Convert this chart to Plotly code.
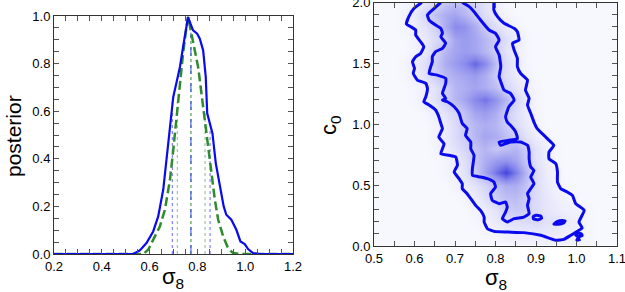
import plotly.graph_objects as go

# ---------------- Left panel: 1D posterior of sigma8 ----------------
blue_s = [0.2, 0.33, 0.531, 0.559, 0.587, 0.615, 0.636, 0.657, 0.671, 0.685, 0.699, 0.713, 0.727,
          0.740, 0.752, 0.761, 0.771, 0.782, 0.799, 0.810, 0.824, 0.835, 0.841, 0.852, 0.863,
          0.877, 0.894, 0.910, 0.921, 0.942, 0.963, 0.980, 0.998, 1.012, 1.033, 1.061, 1.2]
blue_p = [0.0, 0.0, 0.0, 0.015, 0.046, 0.095, 0.158, 0.27, 0.395, 0.535, 0.66, 0.723, 0.786,
          0.87, 0.94, 0.996, 0.968, 0.94, 0.926, 0.905, 0.856, 0.744, 0.591, 0.549, 0.507,
          0.381, 0.283, 0.2, 0.165, 0.144, 0.102, 0.053, 0.042, 0.021, 0.004, 0.0, 0.0]

green_s = [0.2, 0.573, 0.594, 0.615, 0.643, 0.664, 0.685, 0.699, 0.713, 0.727, 0.740, 0.754, 0.761,
           0.775, 0.789, 0.803, 0.817, 0.831, 0.845, 0.859, 0.873, 0.887, 0.908, 0.928, 0.949, 0.977, 1.2]
green_p = [0.0, 0.0, 0.018, 0.06, 0.116, 0.186, 0.311, 0.437, 0.577, 0.716, 0.842, 0.954, 0.996,
           0.926, 0.856, 0.786, 0.675, 0.563, 0.451, 0.339, 0.228, 0.144, 0.074, 0.025, 0.004, 0.0, 0.0]

# vertical marker lines (position, height, colour, dash)
vline_x = [0.695, 0.716, 0.773, 0.773, 0.832, 0.853]
vline_h = [0.64, 0.64, 0.93, 0.93, 0.60, 0.52]
vline_c = ['#6666ff', '#88bb88', '#2e8b2e', '#3344ee', '#88bb88', '#6666ff']
vline_d = ['dot', 'dot', 'dot', 'dash', 'dot', 'dot']

# ---------------- Right panel: 2D posterior sigma8 vs c0 ----------------
grid_s = [0.5, 0.525, 0.55, 0.575, 0.6, 0.625, 0.65, 0.675, 0.7, 0.725, 0.75, 0.775, 0.8,
          0.825, 0.85, 0.875, 0.9, 0.925, 0.95, 0.975, 1.0, 1.025, 1.05, 1.075, 1.1]
grid_c = [0.0, 0.1, 0.2, 0.3, 0.4, 0.5, 0.6, 0.7, 0.8, 0.9, 1.0,
          1.1, 1.2, 1.3, 1.4, 1.5, 1.6, 1.7, 1.8, 1.9, 2.0]
density = [
    [0,0,0,0,0,0,0,0,0,0,0,0,0,0,.01,.01,.02,.02,.03,.03,.03,.01,0,0,0],
    [0,0,0,0,0,0,0,0,0,0,0,.01,.03,.06,.08,.09,.10,.09,.08,.06,.06,.01,0,0,0],
    [0,0,0,0,0,0,0,0,0,0,.01,.05,.10,.15,.18,.20,.22,.16,.15,.10,.06,.01,0,0,0],
    [0,0,0,0,0,0,0,0,0,0,.03,.07,.15,.30,.35,.30,.20,.13,.09,.06,.04,.01,0,0,0],
    [0,0,0,0,0,0,0,0,0,.03,.08,.18,.32,.40,.42,.32,.20,.12,.07,.03,.01,0,0,0,0],
    [0,0,0,0,0,0,0,0,.03,.08,.15,.25,.40,.50,.50,.38,.20,.10,.04,.01,0,0,0,0,0],
    [0,0,0,0,0,0,0,.02,.07,.16,.32,.55,.80,1.0,.75,.45,.20,.08,.03,0,0,0,0,0,0],
    [0,0,0,0,0,0,0,.02,.07,.18,.35,.50,.60,.65,.55,.35,.15,.07,.01,0,0,0,0,0,0],
    [0,0,0,0,0,0,.02,.08,.16,.25,.38,.45,.35,.40,.45,.32,.15,.06,.01,0,0,0,0,0,0],
    [0,0,0,0,0,0,.04,.10,.20,.32,.45,.55,.50,.40,.30,.15,.07,.02,0,0,0,0,0,0,0],
    [0,0,0,0,0,0,.03,.10,.20,.35,.45,.50,.45,.32,.20,.10,.03,0,0,0,0,0,0,0,0],
    [0,0,0,0,0,.02,.07,.15,.25,.40,.55,.60,.50,.32,.18,.08,.02,0,0,0,0,0,0,0,0],
    [0,0,0,0,.02,.07,.16,.30,.45,.55,.70,.80,.65,.45,.25,.10,.02,0,0,0,0,0,0,0,0],
    [0,0,0,0,.02,.06,.15,.30,.45,.50,.55,.50,.40,.25,.13,.06,.01,0,0,0,0,0,0,0,0],
    [0,0,0,.01,.07,.16,.30,.42,.50,.55,.60,.50,.32,.18,.09,.03,0,0,0,0,0,0,0,0,0],
    [0,0,0,.02,.08,.18,.32,.50,.60,.70,.85,.70,.40,.20,.08,.02,0,0,0,0,0,0,0,0,0],
    [0,0,0,0,.04,.10,.28,.45,.55,.60,.55,.45,.30,.15,.06,.01,0,0,0,0,0,0,0,0,0],
    [0,0,0,0,.04,.10,.20,.32,.55,.60,.55,.45,.32,.18,.08,.02,0,0,0,0,0,0,0,0,0],
    [0,0,0,.02,.08,.15,.28,.50,.70,.65,.50,.32,.18,.10,.03,0,0,0,0,0,0,0,0,0,0],
    [0,0,0,.03,.10,.25,.40,.50,.55,.45,.32,.18,.08,.02,0,0,0,0,0,0,0,0,0,0,0],
    [0,0,0,0,.05,.12,.22,.35,.40,.35,.25,.15,.06,0,0,0,0,0,0,0,0,0,0,0,0],
]
for row in density:
    assert len(row) == len(grid_s), len(row)
assert len(density) == len(grid_c)

outer_s = [0.618, 0.599, 0.586, 0.580, 0.591, 0.603, 0.603, 0.615, 0.623, 0.615, 0.603, 0.595, 0.600,
           0.597, 0.607, 0.628, 0.632, 0.628, 0.623, 0.636, 0.652, 0.660, 0.665, 0.669, 0.660, 0.673,
           0.665, 0.685, 0.702, 0.706, 0.698, 0.710, 0.718, 0.718, 0.730, 0.739, 0.751, 0.763, 0.772,
           0.772, 0.780, 0.796, 0.829, 0.870, 0.912, 0.949, 0.969, 0.986, 1.006, 1.014, 1.006, 1.019,
           0.998, 0.990, 0.977, 0.961, 0.953, 0.953, 0.949, 0.932, 0.932, 0.944, 0.928, 0.903, 0.895,
           0.887, 0.879, 0.883, 0.874, 0.879, 0.862, 0.854, 0.854, 0.846, 0.842, 0.858, 0.854, 0.846,
           0.821, 0.805, 0.796, 0.796]
outer_c = [2.0, 1.952, 1.884, 1.823, 1.801, 1.774, 1.733, 1.678, 1.637, 1.582, 1.555, 1.514, 1.459,
           1.418, 1.363, 1.336, 1.295, 1.227, 1.185, 1.158, 1.117, 1.062, 1.007, 0.964, 0.895, 0.840,
           0.758, 0.745, 0.731, 0.663, 0.608, 0.553, 0.512, 0.471, 0.430, 0.389, 0.334, 0.293, 0.238,
           0.197, 0.142, 0.120, 0.115, 0.110, 0.088, 0.047, 0.055, 0.088, 0.129, 0.148, 0.197, 0.293,
           0.348, 0.416, 0.444, 0.471, 0.526, 0.608, 0.676, 0.717, 0.772, 0.827, 0.882, 0.964, 1.018,
           1.090, 1.158, 1.213, 1.281, 1.363, 1.418, 1.473, 1.541, 1.610, 1.665, 1.692, 1.760, 1.788,
           1.829, 1.884, 1.938, 2.0]

inner_s = [0.665, 0.644, 0.632, 0.636, 0.652, 0.665, 0.669, 0.665, 0.677, 0.669, 0.652, 0.644, 0.644,
           0.640, 0.636, 0.656, 0.677, 0.677, 0.673, 0.669, 0.677, 0.669, 0.681, 0.698, 0.710, 0.718,
           0.730, 0.726, 0.739, 0.739, 0.747, 0.743, 0.743, 0.763, 0.780, 0.796, 0.800, 0.788, 0.792,
           0.809, 0.825, 0.829, 0.825, 0.817, 0.829, 0.846, 0.870, 0.883, 0.879, 0.883, 0.879, 0.887,
           0.895, 0.887, 0.895, 0.887, 0.883, 0.883, 0.879, 0.862, 0.837, 0.813, 0.809, 0.833, 0.854,
           0.850, 0.837, 0.829, 0.825, 0.833, 0.846, 0.837, 0.821, 0.813, 0.809, 0.813, 0.809, 0.800,
           0.809, 0.800, 0.784, 0.763, 0.747, 0.735, 0.718]
inner_c = [2.0, 1.938, 1.897, 1.856, 1.815, 1.788, 1.747, 1.719, 1.665, 1.624, 1.596, 1.555, 1.514,
           1.473, 1.418, 1.404, 1.377, 1.336, 1.295, 1.254, 1.213, 1.199, 1.185, 1.144, 1.090, 1.007,
           0.964, 0.909, 0.854, 0.799, 0.745, 0.635, 0.580, 0.567, 0.553, 0.526, 0.485, 0.430, 0.375,
           0.348, 0.361, 0.320, 0.279, 0.225, 0.197, 0.225, 0.238, 0.266, 0.334, 0.389, 0.430, 0.471,
           0.512, 0.567, 0.621, 0.649, 0.717, 0.772, 0.827, 0.854, 0.854, 0.827, 0.854, 0.868, 0.882,
           0.936, 0.991, 1.018, 1.062, 1.144, 1.199, 1.254, 1.281, 1.350, 1.391, 1.473, 1.569, 1.637,
           1.692, 1.747, 1.774, 1.856, 1.925, 1.966, 2.0]

island1_s = [0.893, 0.900, 0.912, 0.914, 0.905, 0.894, 0.893]
island1_c = [0.240, 0.253, 0.245, 0.228, 0.215, 0.222, 0.240]
island2_s = [0.944, 0.952, 0.965, 0.972, 0.968, 0.955, 0.944]
island2_c = [0.180, 0.200, 0.210, 0.205, 0.190, 0.178, 0.180]
island3_s = [0.998, 1.004, 1.012, 1.014, 1.005, 0.998]
island3_c = [0.090, 0.105, 0.100, 0.085, 0.078, 0.090]
spur_s = [1.000, 1.004, 1.008]
spur_c = [0.040, 0.070, 0.040]

BLUE = '#0a0aee'
GREEN = '#2e8b2e'
FONT = 'Liberation Sans, Arial, sans-serif'

fig = go.Figure()

# left panel traces
for vx, vh, vc, vd in zip(vline_x, vline_h, vline_c, vline_d):
    fig.add_trace(go.Scatter(x=[vx, vx], y=[0, vh], mode='lines',
                             line=dict(color=vc, width=1, dash=vd),
                             xaxis='x', yaxis='y', showlegend=False, hoverinfo='skip'))
fig.add_trace(go.Scatter(x=green_s, y=green_p, mode='lines',
                         line=dict(color=GREEN, width=2.5, dash='9px,4px'),
                         xaxis='x', yaxis='y', showlegend=False))
fig.add_trace(go.Scatter(x=blue_s, y=blue_p, mode='lines',
                         line=dict(color=BLUE, width=2.2),
                         xaxis='x', yaxis='y', showlegend=False))

# right panel traces
fig.add_trace(go.Heatmap(x=grid_s, y=grid_c, z=density, zsmooth='best',
                         colorscale=[[0, '#f7f7fe'], [0.35, '#c8c8f6'], [0.7, '#8a8aec'], [1, '#4444e0']],
                         zmin=0, zmax=1, showscale=False, xaxis='x2', yaxis='y2', hoverinfo='skip'))
for xs, ys in [(outer_s, outer_c), (inner_s, inner_c), (island1_s, island1_c),
               (island2_s, island2_c), (island3_s, island3_c), (spur_s, spur_c)]:
    fig.add_trace(go.Scatter(x=xs, y=ys, mode='lines',
                             line=dict(color=BLUE, width=3, shape='spline', smoothing=0.4),
                             xaxis='x2', yaxis='y2', showlegend=False, hoverinfo='skip'))

axis_common = dict(showline=True, linecolor='#333333', linewidth=1, mirror='allticks',
                   ticks='inside', ticklen=5, tickcolor='#555555', tickwidth=1,
                   showgrid=False, zeroline=False, automargin=False,
                   ticklabeloverflow='allow',
                   tickfont=dict(family=FONT, size=13, color='black'))

fig.update_layout(
    width=625, height=292,
    margin=dict(l=0, r=0, t=0, b=0),
    paper_bgcolor='white', plot_bgcolor='white',
    font=dict(family=FONT, color='black'),
    xaxis=dict(domain=[0.0864, 0.4688], range=[0.2, 1.2], dtick=0.2, tickformat='.1f',
               minor=dict(ticks='inside', dtick=0.05, ticklen=5, tickcolor='#555555'),
               anchor='y', **axis_common),
    yaxis=dict(domain=[0.130, 0.945], range=[0, 1.0], dtick=0.2, tickformat='.1f',
               minor=dict(ticks='inside', dtick=0.05, ticklen=5, tickcolor='#555555'),
               anchor='x', **axis_common),
    xaxis2=dict(domain=[0.5984, 0.9872], range=[0.5, 1.1], dtick=0.1, tickformat='.1f',
                minor=dict(ticks='inside', dtick=0.05, ticklen=5, tickcolor='#555555'),
                anchor='y2', **axis_common),
    yaxis2=dict(domain=[0.1575, 0.9914], range=[0, 2.0], dtick=0.5, tickformat='.1f',
                minor=dict(ticks='inside', dtick=0.1, ticklen=5, tickcolor='#555555'),
                anchor='x2', **axis_common),
    annotations=[
        dict(text='posterior', x=13 / 625, y=1 - 136 / 292, xref='paper', yref='paper',
             xanchor='center', yanchor='middle',
             textangle=-90, showarrow=False, font=dict(family=FONT, size=21)),
        dict(text='σ<sub>8</sub>', x=173 / 625, y=1 - 278 / 292, xref='paper', yref='paper',
             xanchor='center', yanchor='middle',
             showarrow=False, font=dict(family=FONT, size=22)),
        dict(text='c<sub>0</sub>', x=330 / 625, y=1 - 125 / 292, xref='paper', yref='paper',
             xanchor='center', yanchor='middle',
             textangle=-90, showarrow=False, font=dict(family=FONT, size=22)),
        dict(text='σ<sub>8</sub>', x=496 / 625, y=1 - 279 / 292, xref='paper', yref='paper',
             xanchor='center', yanchor='middle',
             showarrow=False, font=dict(family=FONT, size=22)),
    ],
)

fig.write_html('out.html', config={'displayModeBar': False},
               post_script="document.body.style.margin='0';document.body.style.padding='0';")
